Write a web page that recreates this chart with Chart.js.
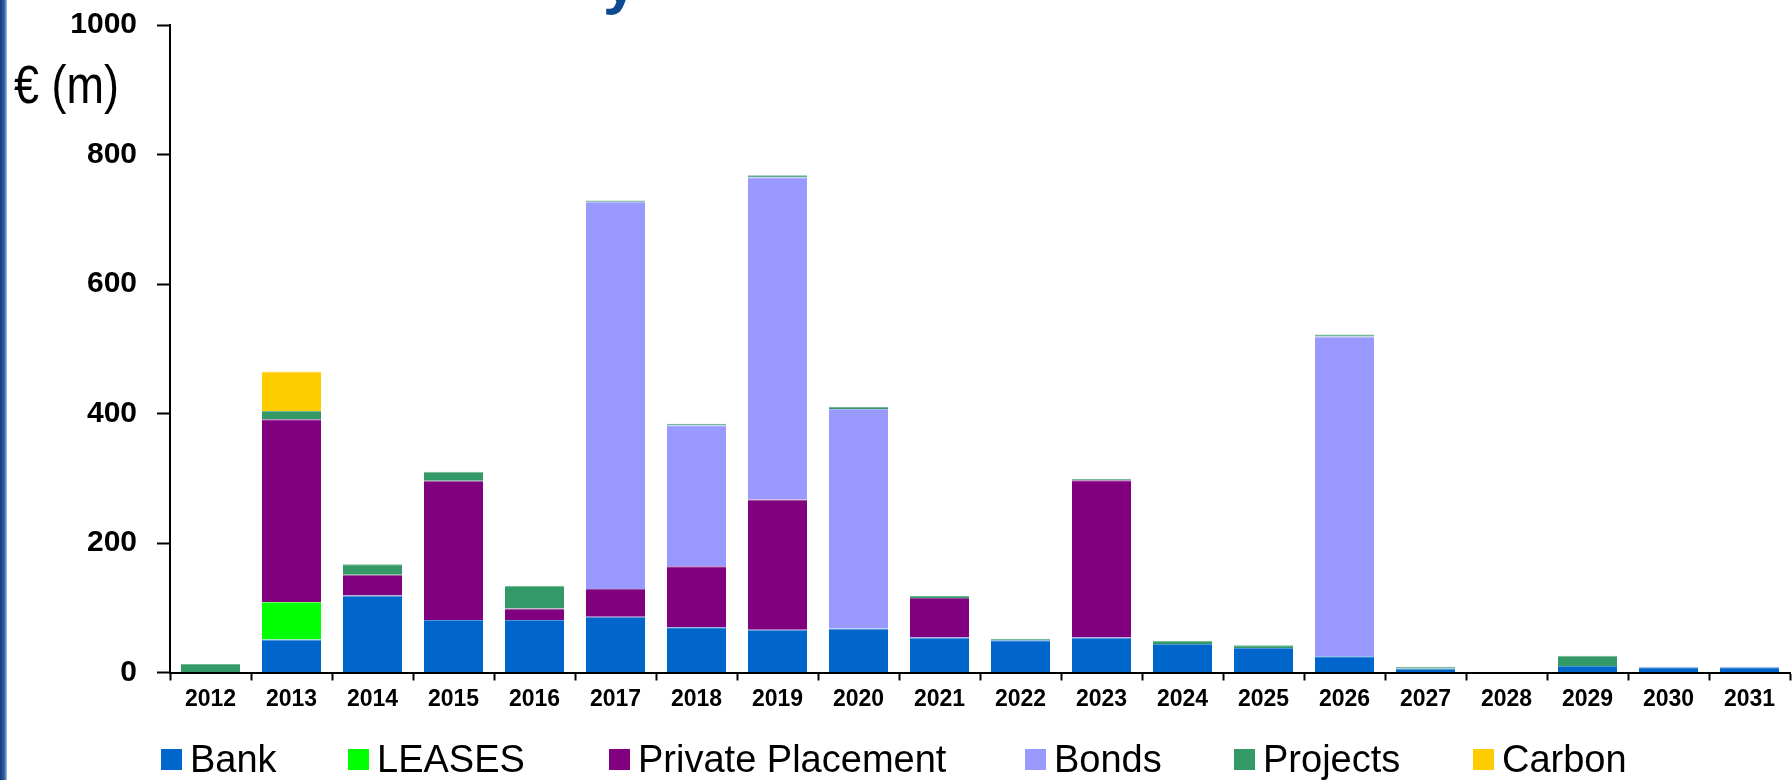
<!DOCTYPE html>
<html>
<head>
<meta charset="utf-8">
<title>Debt maturity profile</title>
<script src="https://cdn.jsdelivr.net/npm/chart.js@4.4.1/dist/chart.umd.min.js"></script>
<style>
  html, body { margin: 0; padding: 0; background: #fff; }
  #wrap { position: relative; width: 1792px; height: 780px; overflow: hidden; background: #fff; }
  #chartBox { position: absolute; left: 0; top: 0; width: 1792px; height: 780px; }
  #edge { position: absolute; left: 0; top: 0; width: 7px; height: 780px;
          background: linear-gradient(to right, #173a73, #2b5ea6 60%, #a9c0e0); }
  #heading { position: absolute; left: 603px; top: -50px; font: bold 62px 'Liberation Sans', Arial, sans-serif;
             line-height: 1; color: #0d4a8f; }
  #unit { position: absolute; left: 14px; top: 57px; font: 45px 'Liberation Sans', Arial, sans-serif;
          line-height: 1; transform: scaleY(1.2); transform-origin: 0 0; color: #000; }
  #legend { position: absolute; left: 0; top: 737px; width: 1792px; height: 44px;
            font: 38px 'Liberation Sans', Arial, sans-serif; color: #000; }
  #legend .item { position: absolute; top: 0; display: flex; align-items: center; height: 44px; white-space: nowrap; }
  #legend .box { width: 21px; height: 21px; margin-right: 8px; }
</style>
</head>
<body>
<div id="wrap">
  <div id="chartBox"><canvas id="maturities"></canvas></div>
  <div id="edge"></div>
  <div id="heading">y</div>
  <div id="unit">€ (m)</div>
  <div id="legend"></div>
</div>
<script>
// Repayment years
const years = ['2012', '2013', '2014', '2015', '2016', '2017', '2018', '2019', '2020', '2021',
               '2022', '2023', '2024', '2025', '2026', '2027', '2028', '2029', '2030', '2031'];

// Amounts falling due, € millions
const bank      = [0, 51, 119, 81, 81, 86, 70, 66, 68, 54, 50, 54, 44, 38, 25, 6, 0, 10, 8, 8];
const leases    = [0, 58, 0, 0, 0, 0, 0, 0, 0, 0, 0, 0, 0, 0, 0, 0, 0, 0, 0, 0];
const placement = [0, 282, 32, 215, 18, 43, 94, 201, 0, 61, 0, 243, 0, 0, 0, 0, 0, 0, 0, 0];
const bonds     = [0, 0, 0, 0, 0, 598, 218, 498, 339, 0, 0, 0, 0, 0, 494, 0, 0, 0, 0, 0];
const projects  = [13, 13, 16, 14, 35, 2, 2, 3, 3, 3, 2, 2, 5, 4, 3, 3, 0, 16, 0, 0];
const carbon    = [0, 61, 0, 0, 0, 0, 0, 0, 0, 0, 0, 0, 0, 0, 0, 0, 0, 0, 0, 0];

const yTicks = [0, 200, 400, 600, 800, 1000];

const seriesNames = ['Bank', 'LEASES', 'Private Placement', 'Bonds', 'Projects', 'Carbon'];
const seriesData = [bank, leases, placement, bonds, projects, carbon];
const fills = ['#0066CC', '#00FF00', '#800080', '#9999FF', '#339966', '#FFCC00'];
const edges = ['#4d94db', '#66ff66', '#994d99', '#b3b3ff', '#70b894', '#ffdb4d'];

// left edge of each legend entry
const legendX = [161, 348, 609, 1025, 1234, 1473];

Chart.defaults.color = '#000';
Chart.defaults.font.family = "'Liberation Sans', Arial, sans-serif";

const datasets = seriesNames.map((name, i) => ({
  label: name,
  data: seriesData[i],
  backgroundColor: fills[i],
  borderColor: edges[i],
  borderWidth: { top: 1, right: 0, bottom: 0, left: 0 },
  barPercentage: 0.73,
  categoryPercentage: 1.0
}));

const chart = new Chart(document.getElementById('maturities'), {
  type: 'bar',
  data: { labels: years, datasets: datasets },
  options: {
    responsive: true,
    maintainAspectRatio: false,
    animation: false,
    layout: { padding: { top: 25, right: 2, bottom: 0, left: 0 } },
    plugins: {
      legend: { display: false },
      tooltip: { enabled: false }
    },
    scales: {
      x: {
        stacked: true,
        afterFit: scale => {
          scale.height = 107.5;
          scale.paddingLeft = 0;
          scale.paddingRight = 0;
        },
        grid: { drawOnChartArea: false, drawTicks: true, tickLength: 8, tickWidth: 2, tickColor: '#000', offset: true },
        border: { display: true, color: '#000', width: 2 },
        ticks: {
          autoSkip: false,
          maxRotation: 0,
          padding: 5,
          color: '#000',
          font: { size: 23, weight: 'bold' }
        }
      },
      y: {
        stacked: true,
        min: 0,
        max: 1000,
        afterFit: scale => {
          // keep the plot top at the 1000 tick, labels may overhang
          scale.width = 170;
          scale.paddingTop = 0;
          scale.paddingBottom = 0;
        },
        afterBuildTicks: scale => { scale.ticks = yTicks.map(v => ({ value: v })); },
        grid: { drawOnChartArea: false, drawTicks: true, tickLength: 13, tickWidth: 2, tickColor: '#000' },
        border: { display: true, color: '#000', width: 2 },
        ticks: {
          padding: 20,
          color: '#000',
          font: { size: 30, weight: 'bold' },
          callback: value => String(value)
        }
      }
    }
  }
});

// legend built from the chart's own datasets
const legend = document.getElementById('legend');
chart.data.datasets.forEach((ds, i) => {
  const item = document.createElement('div');
  item.className = 'item';
  item.style.left = legendX[i] + 'px';
  const box = document.createElement('span');
  box.className = 'box';
  box.style.background = ds.backgroundColor;
  const text = document.createElement('span');
  text.textContent = ds.label;
  item.appendChild(box);
  item.appendChild(text);
  legend.appendChild(item);
});
</script>
</body>
</html>
